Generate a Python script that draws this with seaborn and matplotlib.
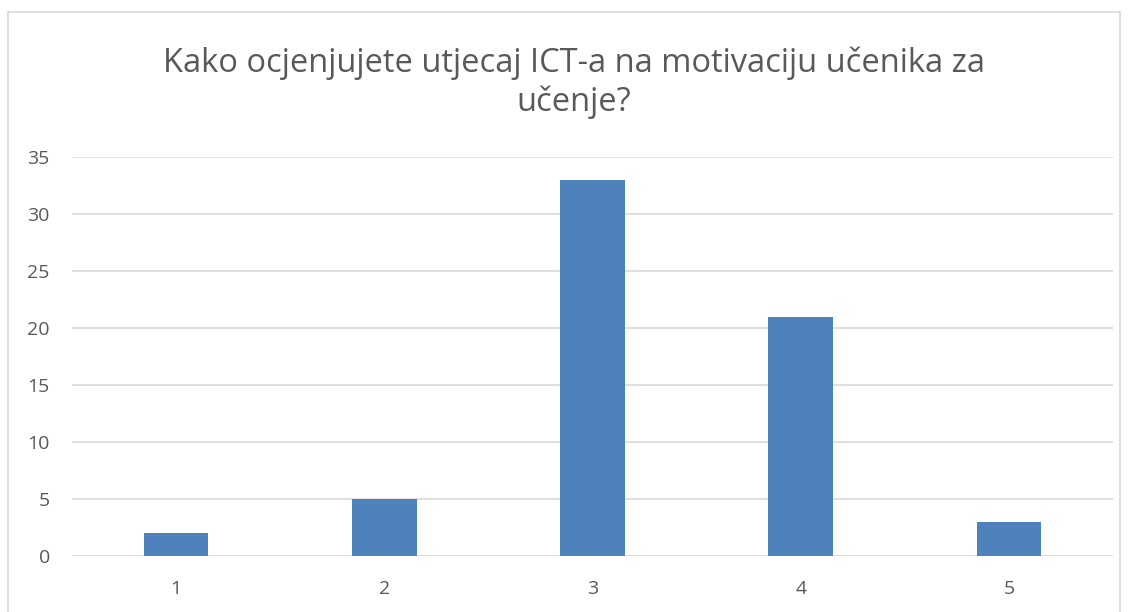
import matplotlib
matplotlib.use("Agg")
import matplotlib.pyplot as plt
import seaborn as sns
import pandas as pd
from matplotlib.lines import Line2D

categories = ["1", "2", "3", "4", "5"]
counts = [2, 5, 33, 21, 3]
title = "Kako ocjenjujete utjecaj ICT-a na motivaciju učenika za\nučenje?"

df = pd.DataFrame({"Ocjena": categories, "Broj": counts})

sns.set_style("white")
plt.rcParams["font.family"] = ["Open Sans", "DejaVu Sans"]

fig = plt.figure(figsize=(11.3, 6.12), dpi=100)
ax = fig.add_axes([72 / 1130, 1 - 556 / 612, (1113 - 72) / 1130, (556 - 157) / 612])

sns.barplot(data=df, x="Ocjena", y="Broj", color="#4F81BD", width=0.31,
            saturation=1, linewidth=0, ax=ax, zorder=3)

ax.set_ylim(0, 35)
ax.set_yticks(range(0, 36, 5))
ax.yaxis.grid(True, color="#D9D9D9", linewidth=1.2, zorder=0)
ax.set_axisbelow(True)
for s in ax.spines.values():
    s.set_visible(False)
ax.set_xlabel("")
ax.set_ylabel("")
ax.tick_params(axis="both", length=0, labelsize=14, labelcolor="#595959")
ax.tick_params(axis="y", pad=16)
ax.tick_params(axis="x", pad=17)

fig.text(0.508, 1 - 83 / 612, title, ha="center", va="center", fontsize=23.5,
         color="#595959", linespacing=1.2)

# chart border
bc = "#D9D9D9"
fig.add_artist(Line2D([8 / 1130, 8 / 1130], [0, 1 - 12 / 612], color=bc, lw=1.2))
fig.add_artist(Line2D([8 / 1130, 1120 / 1130], [1 - 12 / 612, 1 - 12 / 612], color=bc, lw=1.2))
fig.add_artist(Line2D([1120 / 1130, 1120 / 1130], [0, 1 - 12 / 612], color=bc, lw=1.2))

fig.savefig("out.png", dpi=100)
